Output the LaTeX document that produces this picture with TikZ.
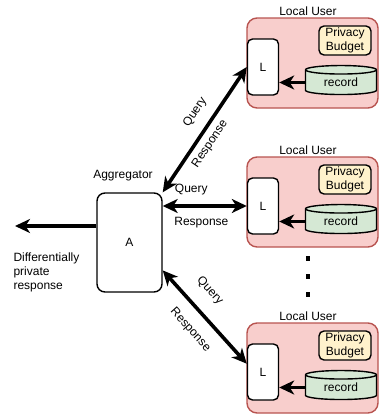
\documentclass[tikz,border=0pt]{standalone}
\usepackage{fontspec}
\setmainfont{Liberation Sans}
\usetikzlibrary{shapes.geometric,arrows.meta}

\definecolor{userred}{HTML}{F8CECC}
\definecolor{userline}{HTML}{B85450}
\definecolor{budget}{HTML}{FFF2CC}
\definecolor{store}{HTML}{D5E8D4}

\tikzset{
  box/.style={draw, rounded corners=5pt, line width=1.4pt, fill=white, inner sep=0pt},
  head/.tip={Stealth[length=15pt, width=14pt, inset=4.5pt]},
  flow/.style={line width=3.6pt, -head},
  bothway/.style={line width=3.6pt, head-head},
}

\begin{document}
\begin{tikzpicture}[x=1pt, y=-1pt, font=\fontsize{12}{14}\selectfont]
\def\xuser{247};
\def\xright{378};
\def\xl{263};
\def\xbox{345};
\def\xrec{341};

\useasboundingbox (0,0) rectangle (384,415);

% aggregator
\node [box, minimum width=65pt, minimum height=99pt, rounded corners=8pt] (A) at (129.5, 242.5) {A};
\node (agg) at (123, 176) {Aggregator};

% the local users
\foreach \n/\ty in {1/18, 2/157, 3/323} {
  \filldraw [fill=userred, draw=userline, line width=1.4pt, rounded corners=10pt] (\xuser, \ty) rectangle (\xright, \ty+90);
  \node (U\n) at (308, \ty-7) {Local User};
  \node [box, minimum width=31pt, minimum height=56pt] (L\n) at (\xl, \ty+49) {L};
  \node [box, fill=budget, minimum width=52pt, minimum height=29pt, align=center,
         font=\fontsize{12}{13.5}\selectfont] (P\n) at (\xbox, \ty+22.5) {Privacy\\Budget};
  \node [draw, fill=store, cylinder, shape border rotate=90, aspect=0.25, line width=1.4pt,
         inner sep=0pt, minimum width=71pt, minimum height=29pt] (R\n) at (\xrec, \ty+64.5) {record};
  \draw [flow] (R\n.west) -- (R\n.west -| L\n.east);
}

% vertical dots
\foreach \yd in {258, 276, 294}
  \node [fill, inner sep=0pt, minimum width=4pt, minimum height=5pt] (d\yd) at (308, \yd) {};

% query / response links
\draw [bothway] (A.north east) -- node [sloped, pos=0.56, above=7pt] {Query}
  node [sloped, pos=0.44, below=2pt] {Response} (L1.west);
\draw [bothway] (L2.west -| A.east) -- node [pos=0.34, above=6pt] {Query}
  node [pos=0.46, below=6pt] {Response} (L2.west);
\draw [bothway] (A.-40) -- node [sloped, pos=0.37, above=11pt] {Query}
  node [sloped, pos=0.5, below=9pt] {Response} (L3.153);

% released output
\coordinate (out) at (15, 226);
\draw [flow] (out -| A.west) -- (out);
\node [align=left, anchor=north west] (dp) at (10, 249) {Differentially\\private\\response};

\end{tikzpicture}
\end{document}
